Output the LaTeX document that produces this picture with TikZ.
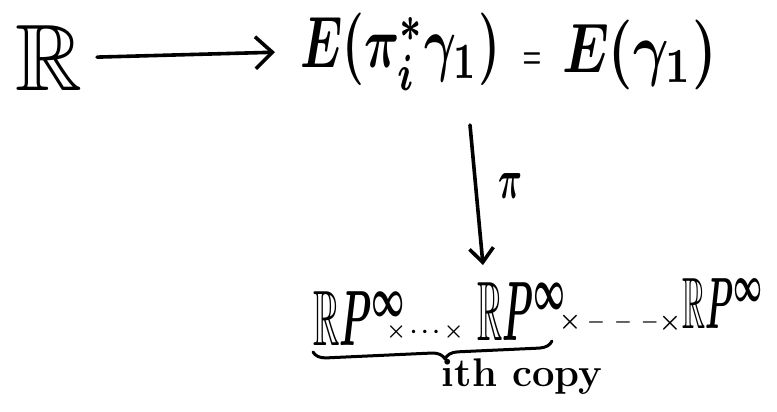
\documentclass[tikz,border=0pt]{standalone}
\usepackage{amssymb}
\usetikzlibrary{arrows.meta,decorations.pathreplacing}
\newcommand\fitbox[3]{\resizebox*{#1}{#2}{\boldmath$#3$}}
\newcommand\scaledmath[3]{\scalebox{#1}[#2]{\boldmath$#3$}}
\tikzset{
  glyph/.style={inner sep=0pt, outer sep=0pt, anchor=north west},
  symb/.style={inner sep=0pt, outer sep=0pt, anchor=base},
  hand/.style={line width=3.6pt, line cap=round, line join=round},
  handarrow/.style={hand, -{Straight Barb[length=17pt,width=32pt,line width=3.6pt]}},
  downarrow/.style={hand, -{Straight Barb[length=14pt,width=24pt,line width=3.6pt]}},
}
\begin{document}
\begin{tikzpicture}[x=1pt,y=1pt]
  \fill[white] (0,0) rectangle (777,-412);
  \useasboundingbox (0,0) rectangle (777,-412);
  % top row
  \node[glyph] (R)  at (15,-25)  {\fitbox{67pt}{65pt}{\mathbb{R}}};
  \node[glyph] (E1) at (300,-13) {\fitbox{200pt}{77pt}{E(\pi_i^{*}\gamma_1)}};
  \node[symb]  (eq) at (532,-69) {\scaledmath{2.1}{4}{=}};
  \node[glyph] (E2) at (562,-20) {\fitbox{155pt}{70pt}{E(\gamma_1)}};
  \draw[handarrow, shorten <=15pt, shorten >=25pt] (R.east) -- (E1.west);
  % vertical map
  \coordinate (vt) at (470,-125);
  \coordinate (vb) at (483,-265);
  \draw[downarrow] (vt) -- (vb);
  \node[inner sep=0pt] (pi) at (510,-186) {\fitbox{24pt}{25pt}{\pi}};
  % bottom row
  \node[glyph] (P1) at (313,-291) {\fitbox{94pt}{54pt}{\mathbb{R}P^{\infty}}};
  \node[symb]  (d1) at (425,-337) {\scaledmath{2.2}{2.2}{\times\cdots\times}};
  \node[glyph] (P2) at (477,-282) {\fitbox{90pt}{58pt}{\mathbb{R}P^{\infty}}};
  \node[symb]  (x1) at (570,-328) {\scaledmath{2.5}{2.5}{\times}};
  \node[symb]  (d2) at (623,-327) {\scaledmath{2}{2}{{-}\hspace{4.5pt}{-}\hspace{4.5pt}{-}}};
  \node[symb]  (x2) at (670,-329) {\scaledmath{2.5}{2.5}{\times}};
  \node[glyph] (P3) at (682,-278) {\fitbox{82pt}{50pt}{\mathbb{R}P^{\infty}}};
  % brace
  \coordinate (bl) at (313,-352);
  \coordinate (br) at (552,-341);
  \draw[hand, line width=3pt, decorate,
        decoration={brace, mirror, amplitude=13pt, aspect=0.55}] (bl) -- (br);
  \node[symb] (ith) at (522,-386) {\hbox{\fontsize{40}{40}\selectfont\bfseries ith copy}};
\end{tikzpicture}
\end{document}
